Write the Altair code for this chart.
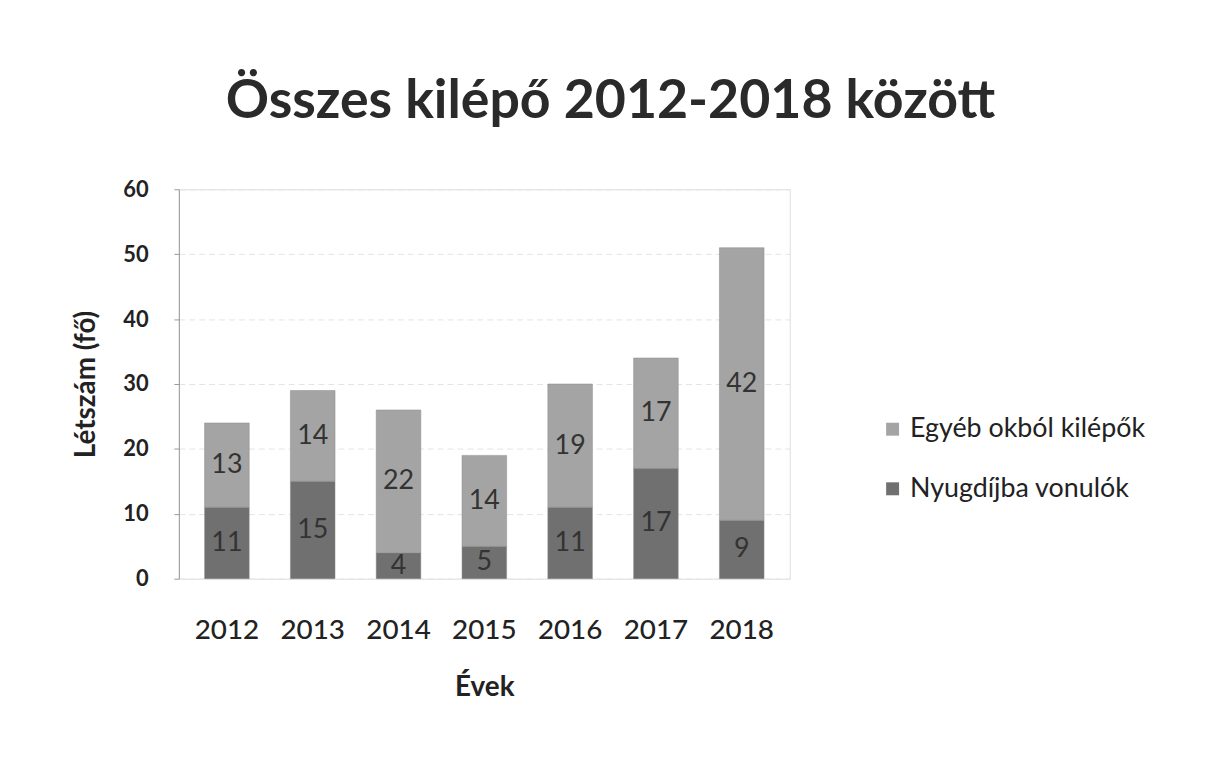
import altair as alt
import pandas as pd

years = ["2012", "2013", "2014", "2015", "2016", "2017", "2018"]
egyeb = [13, 14, 22, 14, 19, 17, 42]
nyugdij = [11, 15, 4, 5, 11, 17, 9]
series = ["Egyéb okból kilépők", "Nyugdíjba vonulók"]
colors = ["#a4a4a4", "#707070"]

rows = []
for y, e, n in zip(years, egyeb, nyugdij):
    rows.append({"Év": y, "Sor": series[1], "Érték": n, "ord": 0})
    rows.append({"Év": y, "Sor": series[0], "Érték": e, "ord": 1})
df = pd.DataFrame(rows)

FONT = "Lato"

base = alt.Chart(df)

bars = base.mark_bar(stroke="#8a8a8a", strokeWidth=0.5).encode(
    x=alt.X("Év:N", sort=years,
            scale=alt.Scale(paddingInner=0.48, paddingOuter=0.3),
            axis=alt.Axis(title="Évek", labelAngle=0, labelFontSize=28, labelColor="#222",
                          labelFontWeight=500,
                          titleFontSize=28, titleFontWeight="bold", titleColor="#222",
                          titlePadding=30, labelPadding=38, domain=False, ticks=False,
                          labelFont=FONT, titleFont=FONT)),
    y=alt.Y("Érték:Q", stack="zero",
            scale=alt.Scale(domain=[0, 60]),
            axis=alt.Axis(title="Létszám (fő)", values=[0, 10, 20, 30, 40, 50, 60],
                          labelFontSize=22, labelColor="#222", labelFontWeight="bold",
                          titleFontSize=28,
                          titleFontWeight="bold", titleColor="#222", titlePadding=22,
                          labelPadding=26, gridColor="#e4e4e4", gridDash=[6, 4],
                          domainColor="#999", tickColor="#999",
                          labelFont=FONT, titleFont=FONT)),
    color=alt.Color("Sor:N", scale=alt.Scale(domain=series, range=colors),
                    legend=alt.Legend(title=None, orient="none", legendX=705, legendY=228,
                                      labelFontSize=27, labelColor="#222", symbolType="square",
                                      symbolSize=170, rowPadding=32, labelFont=FONT,
                                      labelLimit=0, symbolStrokeWidth=0)),
    order=alt.Order("ord:Q"),
)

labels = base.transform_stack(
    stack="Érték", groupby=["Év"], as_=["y0", "y1"], sort=[alt.SortField("ord")]
).transform_calculate(
    mid="(datum.y0 + datum.y1) / 2"
).mark_text(fontSize=27, color="#333", font=FONT).encode(
    x=alt.X("Év:N", sort=years),
    y=alt.Y("mid:Q"),
    text=alt.Text("Érték:Q"),
)

chart = alt.layer(bars, labels).properties(
    width=615, height=392,
    title=alt.TitleParams("Összes kilépő 2012-2018 között", fontSize=54, font=FONT,
                          fontWeight="bold", color="#2a2a2a", offset=50, anchor="middle",
                          dx=127),
    autosize=alt.AutoSizeParams(type="none"),
    padding={"left": 172, "top": 180, "right": 420, "bottom": 180},
).configure_view(stroke=None).configure(background="white")

chart.save("out.html", embed_options={"renderer": "svg", "actions": False})
